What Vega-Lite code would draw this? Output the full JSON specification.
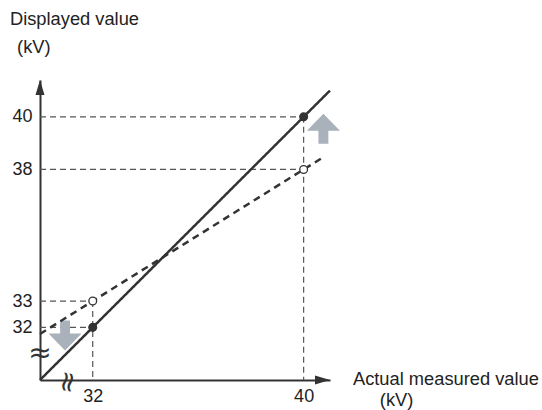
{
  "$schema": "https://vega.github.io/schema/vega-lite/v6.json",
  "width": 290,
  "height": 300,
  "autosize": "none",
  "padding": {"left": 40, "top": 80, "right": 212, "bottom": 30},
  "background": "white",
  "config": {"view": {"stroke": null}, "font": "Liberation Sans"},
  "datasets": {
    "lines": [
      {"series": "solid", "x": 30, "y": 30, "x2": 41, "y2": 41},
      {"series": "dashed", "x": 30, "y": 31.75, "x2": 40.8, "y2": 38.5}
    ],
    "guides": [
      {"x": 30, "y": 40, "x2": 40, "y2": 40},
      {"x": 40, "y": 40, "x2": 40, "y2": 30},
      {"x": 30, "y": 38, "x2": 40, "y2": 38},
      {"x": 30, "y": 33, "x2": 32, "y2": 33},
      {"x": 32, "y": 33, "x2": 32, "y2": 30},
      {"x": 30, "y": 32, "x2": 32, "y2": 32}
    ],
    "points": [
      {"x": 32, "y": 32, "kind": "actual"},
      {"x": 40, "y": 40, "kind": "actual"},
      {"x": 32, "y": 33, "kind": "displayed"},
      {"x": 40, "y": 38, "kind": "displayed"}
    ],
    "arrows": [
      {"dir": "up", "x": 40.75, "y": 39.55},
      {"dir": "down", "x": 30.95, "y": 31.69}
    ],
    "axisEnds": [
      {"end": "xaxis", "x": 41, "y": 30},
      {"end": "yaxis", "x": 30, "y": 41.4}
    ],
    "breaks": [
      {"axis": "y", "x": 30, "y": 30.99},
      {"axis": "x", "x": 31.02, "y": 29.93}
    ],
    "titles": [
      {"text": "Displayed value", "x": 28.86, "y": 43.5},
      {"text": "(kV)", "x": 29.13, "y": 42.44},
      {"text": "Actual measured value", "x": 41.87, "y": 29.81},
      {"text": "(kV)", "x": 42.89, "y": 29.01}
    ]
  },
  "encoding": {
    "x": {
      "field": "x", "type": "quantitative",
      "scale": {"domain": [30, 41], "zero": false, "nice": false},
      "axis": {"values": [32, 40], "title": null, "ticks": false, "grid": false, "domainColor": "#333333", "domainWidth": 2, "labelFontSize": 18, "labelColor": "#222222", "labelPadding": 7, "labelFlush": false, "labelFont": "Liberation Sans"}
    },
    "y": {
      "field": "y", "type": "quantitative",
      "scale": {"domain": [30, 41.4], "zero": false, "nice": false},
      "axis": {"values": [32, 33, 38, 40], "title": null, "ticks": false, "grid": false, "domainColor": "#333333", "domainWidth": 2, "labelFontSize": 18, "labelColor": "#222222", "labelPadding": 8, "labelFlush": false, "labelFont": "Liberation Sans"}
    }
  },
  "layer": [
    {
      "data": {"name": "guides"},
      "mark": {"type": "rule", "stroke": "#555555", "strokeWidth": 1.2, "strokeDash": [6, 4]},
      "encoding": {"x2": {"field": "x2"}, "y2": {"field": "y2"}}
    },
    {
      "data": {"name": "arrows"},
      "transform": [{"filter": "datum.dir === 'up'"}],
      "mark": {"type": "point", "filled": true, "fill": "#a9b1bb", "opacity": 1, "strokeWidth": 0, "size": 1089, "shape": "M0,-0.91L1,0.12L0.3,0.12L0.3,0.91L-0.3,0.91L-0.3,0.12L-1,0.12Z"}
    },
    {
      "data": {"name": "arrows"},
      "transform": [{"filter": "datum.dir === 'down'"}],
      "mark": {"type": "point", "filled": true, "fill": "#a9b1bb", "opacity": 1, "strokeWidth": 0, "size": 1089, "shape": "M0,0.91L1,-0.12L0.3,-0.12L0.3,-0.91L-0.3,-0.91L-0.3,-0.12L-1,-0.12Z"}
    },
    {
      "data": {"name": "lines"},
      "mark": {"type": "rule", "stroke": "#333333", "strokeWidth": 2.5},
      "encoding": {
        "x2": {"field": "x2"}, "y2": {"field": "y2"},
        "strokeDash": {"field": "series", "type": "nominal", "scale": {"domain": ["solid", "dashed"], "range": [[1, 0], [7, 5]]}, "legend": null}
      }
    },
    {
      "data": {"name": "points"},
      "mark": {"type": "point", "shape": "circle", "size": 60, "strokeWidth": 1.3, "stroke": "#333333", "opacity": 1},
      "encoding": {
        "fill": {"field": "kind", "type": "nominal", "scale": {"domain": ["actual", "displayed"], "range": ["#333333", "#ffffff"]}, "legend": null}
      }
    },
    {
      "data": {"name": "axisEnds"},
      "transform": [{"filter": "datum.end === 'xaxis'"}],
      "mark": {"type": "point", "filled": true, "fill": "#333333", "opacity": 1, "strokeWidth": 0, "size": 900, "shape": "M0,0L-1,-0.3L-1,0.3Z"}
    },
    {
      "data": {"name": "axisEnds"},
      "transform": [{"filter": "datum.end === 'yaxis'"}],
      "mark": {"type": "point", "filled": true, "fill": "#333333", "opacity": 1, "strokeWidth": 0, "size": 900, "shape": "M0,0L0.3,1L-0.3,1Z"}
    },
    {
      "data": {"name": "breaks"},
      "transform": [{"filter": "datum.axis === 'y'"}],
      "mark": {"type": "text", "text": "≈", "fontSize": 28, "color": "#333333", "align": "center", "baseline": "middle", "font": "DejaVu Sans"}
    },
    {
      "data": {"name": "breaks"},
      "transform": [{"filter": "datum.axis === 'x'"}],
      "mark": {"type": "text", "text": "≈", "fontSize": 28, "angle": 100, "color": "#333333", "align": "center", "baseline": "middle", "font": "DejaVu Sans"}
    },
    {
      "data": {"name": "titles"},
      "mark": {"type": "text", "align": "left", "baseline": "alphabetic", "fontSize": 18.3, "color": "#222222", "font": "Liberation Sans"},
      "encoding": {"text": {"field": "text"}}
    }
  ]
}
